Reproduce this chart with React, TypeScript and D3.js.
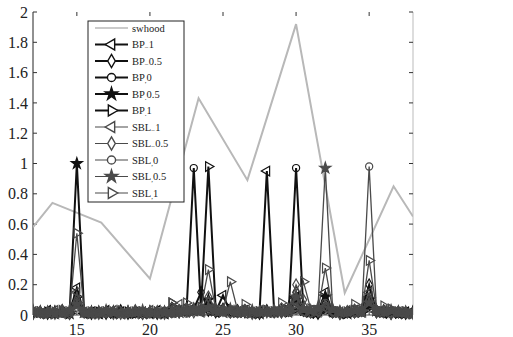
import * as d3 from "d3";

// x positions of the sampled signals
const xs = [
  12, 12.5, 13, 13.5, 14, 14.5, 15, 15.5, 16, 16.5,
  17, 17.5, 18, 18.5, 19, 19.5, 20, 20.5, 21, 21.5,
  22, 22.5, 23, 23.5, 24, 24.5, 25, 25.5, 26, 26.5,
  27, 27.5, 28, 28.5, 29, 29.5, 30, 30.5, 31, 31.5,
  32, 32.5, 33, 33.5, 34, 34.5, 35, 35.5, 36, 36.5,
  37, 37.5, 38,
];

// gray reference line
const swhoodX = [12, 13.33, 16.67, 20, 23.33, 26.67, 30, 33.33, 36.67, 38];
const swhoodY = [0.58, 0.74, 0.61, 0.24, 1.43, 0.89, 1.92, 0.145, 0.85, 0.65];

const bpM1 = [
  0.02, 0.01, 0.03, 0.01, 0.02, 0.02, 0.18, 0.01, 0.02, 0.01,
  0.03, 0.01, 0.02, 0.01, 0.02, 0.02, 0.01, 0.03, 0.01, 0.02,
  0.03, 0.02, 0.03, 0.02, 0.03, 0.02, 0.13, 0.02, 0.02, 0.03,
  0.01, 0.02, 0.95, 0.02, 0.03, 0.02, 0.12, 0.02, 0.01, 0.02,
  0.15, 0.02, 0.01, 0.02, 0.03, 0.02, 0.12, 0.02, 0.01, 0.02,
  0.01, 0.02, 0.01,
];
const bpM05 = [
  0.01, 0.02, 0.01, 0.02, 0.03, 0.01, 0.10, 0.02, 0.01, 0.02,
  0.01, 0.02, 0.03, 0.01, 0.02, 0.01, 0.02, 0.01, 0.02, 0.03,
  0.02, 0.03, 0.04, 0.15, 0.03, 0.02, 0.04, 0.02, 0.03, 0.02,
  0.02, 0.01, 0.03, 0.02, 0.02, 0.03, 0.15, 0.03, 0.02, 0.01,
  0.08, 0.02, 0.01, 0.02, 0.02, 0.03, 0.20, 0.02, 0.03, 0.01,
  0.02, 0.01, 0.02,
];
const bp0 = [
  0.01, 0.01, 0.02, 0.01, 0.01, 0.02, 0.08, 0.01, 0.01, 0.02,
  0.01, 0.01, 0.02, 0.01, 0.01, 0.02, 0.01, 0.01, 0.02, 0.01,
  0.02, 0.02, 0.97, 0.03, 0.05, 0.02, 0.02, 0.02, 0.01, 0.02,
  0.01, 0.01, 0.02, 0.02, 0.02, 0.03, 0.97, 0.03, 0.02, 0.01,
  0.03, 0.01, 0.01, 0.01, 0.02, 0.02, 0.06, 0.02, 0.01, 0.01,
  0.01, 0.02, 0.01,
];
const bp05 = [
  0.02, 0.02, 0.01, 0.02, 0.02, 0.01, 1.0, 0.02, 0.02, 0.01,
  0.02, 0.02, 0.01, 0.02, 0.02, 0.01, 0.02, 0.02, 0.01, 0.02,
  0.02, 0.03, 0.03, 0.04, 0.10, 0.03, 0.02, 0.03, 0.02, 0.02,
  0.02, 0.01, 0.02, 0.02, 0.03, 0.05, 0.10, 0.04, 0.02, 0.03,
  0.12, 0.03, 0.02, 0.01, 0.02, 0.03, 0.10, 0.03, 0.02, 0.02,
  0.02, 0.01, 0.02,
];
const bp1 = [
  0.01, 0.02, 0.02, 0.01, 0.02, 0.01, 0.12, 0.02, 0.01, 0.02,
  0.02, 0.01, 0.02, 0.02, 0.01, 0.02, 0.01, 0.02, 0.01, 0.08,
  0.03, 0.04, 0.03, 0.05, 0.98, 0.04, 0.03, 0.04, 0.02, 0.03,
  0.02, 0.02, 0.03, 0.02, 0.03, 0.02, 0.04, 0.03, 0.02, 0.02,
  0.04, 0.02, 0.02, 0.01, 0.03, 0.02, 0.05, 0.04, 0.02, 0.02,
  0.01, 0.02, 0.01,
];
const sblM1 = [
  0.02, 0.01, 0.02, 0.03, 0.01, 0.02, 0.15, 0.02, 0.01, 0.02,
  0.02, 0.03, 0.01, 0.02, 0.01, 0.02, 0.03, 0.01, 0.02, 0.02,
  0.07, 0.02, 0.03, 0.02, 0.04, 0.03, 0.02, 0.03, 0.02, 0.01,
  0.02, 0.03, 0.02, 0.02, 0.03, 0.02, 0.08, 0.02, 0.03, 0.02,
  0.05, 0.02, 0.02, 0.03, 0.02, 0.02, 0.15, 0.02, 0.03, 0.02,
  0.02, 0.01, 0.02,
];
const sblM05 = [
  0.01, 0.02, 0.02, 0.01, 0.03, 0.01, 0.08, 0.02, 0.02, 0.01,
  0.02, 0.01, 0.01, 0.02, 0.03, 0.01, 0.02, 0.02, 0.01, 0.02,
  0.02, 0.03, 0.02, 0.04, 0.12, 0.04, 0.03, 0.02, 0.02, 0.03,
  0.01, 0.02, 0.02, 0.03, 0.02, 0.04, 0.20, 0.10, 0.02, 0.03,
  0.06, 0.02, 0.01, 0.02, 0.02, 0.03, 0.10, 0.02, 0.02, 0.01,
  0.02, 0.02, 0.01,
];
const sbl0 = [
  0.02, 0.01, 0.01, 0.02, 0.01, 0.01, 0.05, 0.01, 0.02, 0.01,
  0.01, 0.02, 0.01, 0.01, 0.02, 0.01, 0.01, 0.02, 0.01, 0.01,
  0.02, 0.01, 0.03, 0.02, 0.03, 0.02, 0.02, 0.01, 0.02, 0.02,
  0.01, 0.02, 0.02, 0.01, 0.02, 0.02, 0.03, 0.02, 0.01, 0.02,
  0.08, 0.02, 0.01, 0.02, 0.01, 0.03, 0.98, 0.03, 0.02, 0.01,
  0.02, 0.01, 0.01,
];
const sbl05 = [
  0.03, 0.02, 0.02, 0.01, 0.02, 0.03, 0.07, 0.02, 0.01, 0.02,
  0.03, 0.02, 0.01, 0.02, 0.02, 0.03, 0.02, 0.01, 0.02, 0.02,
  0.02, 0.03, 0.04, 0.03, 0.05, 0.03, 0.02, 0.04, 0.02, 0.02,
  0.03, 0.02, 0.02, 0.03, 0.02, 0.03, 0.12, 0.04, 0.03, 0.05,
  0.97, 0.04, 0.02, 0.02, 0.03, 0.02, 0.08, 0.03, 0.02, 0.03,
  0.02, 0.02, 0.01,
];
const sbl1 = [
  0.02, 0.02, 0.01, 0.02, 0.03, 0.02, 0.54, 0.02, 0.02, 0.01,
  0.02, 0.02, 0.03, 0.01, 0.02, 0.02, 0.01, 0.02, 0.02, 0.08,
  0.02, 0.08, 0.03, 0.05, 0.30, 0.04, 0.03, 0.22, 0.03, 0.07,
  0.02, 0.02, 0.03, 0.02, 0.08, 0.03, 0.05, 0.22, 0.04, 0.03,
  0.31, 0.04, 0.02, 0.02, 0.07, 0.03, 0.36, 0.04, 0.06, 0.04,
  0.02, 0.02, 0.01,
];

const seriesValues = [bpM1, bpM05, bp0, bp05, bp1, sblM1, sblM05, sbl0, sbl05, sbl1];
const seriesMain = ["BP", "BP", "BP", "BP", "BP", "SBL", "SBL", "SBL", "SBL", "SBL"];
const seriesSub = ["\u2212", "\u2212", ",", ".", ".", "\u2212", "\u2212", ",", ",", ","];
const seriesRest = ["1", "0.5", "0", "0.5", "1", "1", "0.5", "0", "0.5", "1"];
const seriesMarker = ["left", "diamond", "circle", "star", "right", "left", "diamond", "circle", "star", "right"];

const markerPath = (m: string, k = 1) => {
  if (m === "circle") return d3.symbol(d3.symbolCircle, 40 * k)()!;
  if (m === "diamond") return d3.symbol(d3.symbolDiamond, 38 * k)()!;
  if (m === "star") return d3.symbol(d3.symbolStar, 38 * k)()!;
  return d3.symbol(d3.symbolTriangle, 40 * k)()!;
};
const markerRot = (m: string) => (m === "left" ? -90 : m === "right" ? 90 : 0);

export default function App() {
  const W = 513, H = 337;
  const x = d3.scaleLinear().domain([12, 38]).range([33, 413]);
  const y = d3.scaleLinear().domain([0, 2]).range([315, 12]);

  const sigLine = d3.line<number>().x((_, i) => x(xs[i])).y((d) => y(d));
  const refLine = d3.line<number>().x((_, i) => x(swhoodX[i])).y((d) => y(d));

  const yTicks = y.ticks(10);
  const xTicks = x.ticks(5);
  const fmt = d3.format("~g");
  const font = "'Liberation Serif', 'Times New Roman', serif";

  const lgX = 88, lgY = 21, lgW = 96, lgH = 181;
  const rowY = (i: number) => 28 + i * 16.5;

  return (
    <svg width={W} height={H} style={{ position: "absolute", left: 0, top: 0, background: "#fff" }}>
      <defs>
        <clipPath id="plotClip">
          <rect x={33} y={0} width={380} height={H} />
        </clipPath>
      </defs>

      {/* axes frame */}
      <line x1={33} x2={33} y1={12} y2={315} stroke="#222" strokeWidth={1} />
      <line x1={413} x2={413} y1={12} y2={315} stroke="#bbb" strokeWidth={1} />
      <line x1={33} x2={413} y1={315} y2={315} stroke="#444" strokeWidth={1} />
      {yTicks.map((t) => (
        <g key={"y" + t}>
          <line x1={33} x2={37} y1={y(t)} y2={y(t)} stroke="#333" />
          <line x1={409} x2={413} y1={y(t)} y2={y(t)} stroke="#333" />
          <text x={28} y={y(t)} dy="0.35em" textAnchor="end" fontFamily={font} fontSize={16} fill="#222">
            {fmt(t)}
          </text>
        </g>
      ))}
      {xTicks.map((t) => (
        <g key={"x" + t}>
          <line x1={x(t)} x2={x(t)} y1={12} y2={16} stroke="#333" />
          <line x1={x(t)} x2={x(t)} y1={311} y2={315} stroke="#333" />
          <text x={x(t)} y={335} textAnchor="middle" fontFamily={font} fontSize={16} fill="#222">
            {t}
          </text>
        </g>
      ))}

      <g clipPath="url(#plotClip)">
        <path d={refLine(swhoodY)!} fill="none" stroke="#b8b8b8" strokeWidth={2} />
        {seriesValues.map((vals, s) => {
          const bp = s < 5;
          const col = bp ? "#111" : "#4a4a4a";
          const sw = bp ? 2 : 1.3;
          const m = seriesMarker[s];
          const p = markerPath(m);
          const rot = markerRot(m);
          return (
            <g key={"s" + s}>
              <path d={sigLine(vals)!} fill="none" stroke={col} strokeWidth={sw} />
              {vals.map((v, i) => (
                <path
                  key={i}
                  d={p}
                  transform={`translate(${x(xs[i])},${y(v)}) rotate(${rot})`}
                  fill={m === "star" ? col : "none"}
                  stroke={col}
                  strokeWidth={1.2}
                />
              ))}
            </g>
          );
        })}
      </g>

      {/* legend */}
      <rect x={lgX} y={lgY} width={lgW} height={lgH} fill="#fff" stroke="#222" strokeWidth={1} />
      <line x1={95} x2={128} y1={rowY(0)} y2={rowY(0)} stroke="#b8b8b8" strokeWidth={1.5} />
      <text x={132} y={rowY(0)} dy="0.35em" fontFamily={font} fontSize={10.5} fill="#222">
        swhood
      </text>
      {seriesMarker.map((m, s) => {
        const bp = s < 5;
        const col = bp ? "#111" : "#4a4a4a";
        const ly = rowY(s + 1);
        return (
          <g key={"l" + s}>
            <line x1={95} x2={128} y1={ly} y2={ly} stroke={col} strokeWidth={bp ? 2.2 : 1.2} />
            <path
              d={markerPath(m, 1.3)}
              transform={`translate(111.5,${ly}) rotate(${markerRot(m)})`}
              fill={m === "star" ? col : "#fff"}
              stroke={col}
              strokeWidth={1.4}
            />
            <text x={132} y={ly} dy="0.35em" fontFamily={font} fontSize={10.5} fill="#222">
              {seriesMain[s]}
              <tspan fontSize={7} dy={2}>{seriesSub[s]}</tspan>
              <tspan fontSize={10.5} dy={-2}>{seriesRest[s]}</tspan>
            </text>
          </g>
        );
      })}
    </svg>
  );
}
